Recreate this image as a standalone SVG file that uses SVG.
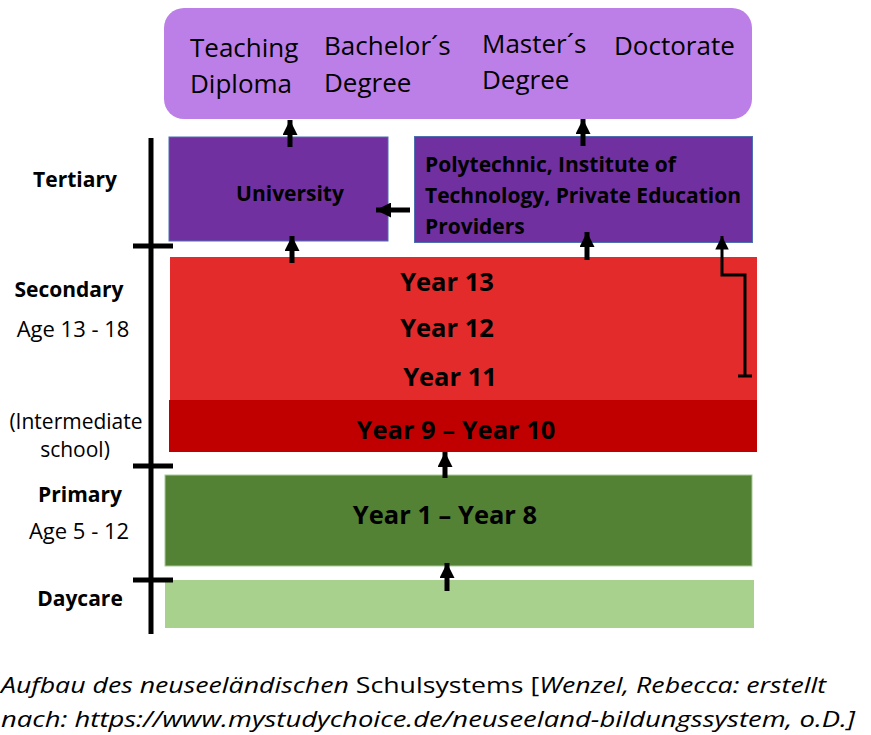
<svg xmlns="http://www.w3.org/2000/svg" width="871" height="735" viewBox="0 0 871 735">
<style>
text{font-family:"Open Sans","Noto Sans","Liberation Sans",sans-serif;fill:#000}
.deg{font-size:26px}
.b{font-weight:bold}
.lbl{font-size:21px;text-anchor:middle}
.lr{font-size:22px;text-anchor:middle}
.yr{font-size:25.5px;font-weight:bold;text-anchor:middle}
.cap{font-size:21px;font-style:italic}
.ax{stroke:#000;stroke-width:5;fill:none}
.con{stroke:#000;stroke-width:5;fill:none}
</style>
<defs>
<marker id="ah" viewBox="0 0 10 10" refX="10" refY="5" markerWidth="3" markerHeight="3" orient="auto" markerUnits="strokeWidth"><path d="M0,0L10,5L0,10z" fill="#000"/></marker>
<marker id="ah2" viewBox="0 0 10 10" refX="10" refY="5" markerWidth="4.5" markerHeight="4.5" orient="auto" markerUnits="strokeWidth"><path d="M0,0L10,5L0,10z" fill="#000"/></marker>
</defs>
<g id="degrees">
<rect x="164" y="8" width="588" height="111" rx="20" fill="#BC7FE8"/>
<text class="deg" x="190" y="57">Teaching</text>
<text class="deg" x="190" y="93">Diploma</text>
<text class="deg" x="324" y="55">Bachelor´s</text>
<text class="deg" x="324" y="92">Degree</text>
<text class="deg" x="482" y="53">Master´s</text>
<text class="deg" x="482" y="89">Degree</text>
<text class="deg" x="614" y="55">Doctorate</text>
</g>
<g id="university">
<rect x="169" y="137" width="219" height="104" fill="#7030A0" stroke="#4F6FB0" stroke-width="1"/>
<text class="b" x="290" y="201" font-size="21" text-anchor="middle">University</text>
</g>
<g id="polytechnic">
<rect x="414.5" y="136.5" width="338" height="106" fill="#7030A0" stroke="#4F6FB0" stroke-width="1"/>
<text class="b" x="425" y="172" font-size="21">Polytechnic, Institute of</text>
<text class="b" x="425" y="203" font-size="21">Technology, Private Education</text>
<text class="b" x="425" y="234" font-size="21">Providers</text>
</g>
<g id="secondary-upper">
<rect x="170" y="257" width="587" height="144" fill="#E32B2B"/>
<text class="yr" x="447" y="291">Year 13</text>
<text class="yr" x="447" y="337">Year 12</text>
<text class="yr" x="450" y="386">Year 11</text>
</g>
<g id="intermediate">
<rect x="169" y="400" width="588" height="52" fill="#C00000"/>
<text class="yr" x="456" y="439">Year 9 – Year 10</text>
</g>
<g id="primary">
<rect x="165" y="475" width="587" height="91" fill="#548235" stroke="#A9C79A" stroke-width="1"/>
<text class="yr" x="445" y="524">Year 1 – Year 8</text>
</g>
<g id="daycare">
<rect x="165" y="580" width="589" height="48" fill="#A9D18E"/>
</g>
<g id="axis">
<line class="ax" x1="151" y1="138" x2="151" y2="634"/>
<line class="ax" x1="133" y1="246" x2="173" y2="246"/>
<line class="ax" x1="133" y1="466" x2="173" y2="466"/>
<line class="ax" x1="133" y1="580" x2="173" y2="580"/>
<text class="lbl b" x="75" y="187">Tertiary</text>
<text class="lbl b" x="69" y="297">Secondary</text>
<text class="lr" x="73" y="337">Age 13 - 18</text>
<text class="lbl" x="76" y="429">(Intermediate</text>
<text class="lbl" x="75" y="457">school)</text>
<text class="lbl b" x="80" y="502">Primary</text>
<text class="lr" x="79" y="539">Age 5 - 12</text>
<text class="lbl b" x="80" y="606">Daycare</text>
</g>
<g id="connectors">
<line class="con" x1="290" y1="147" x2="290" y2="120" marker-end="url(#ah)"/>
<line class="con" x1="583" y1="146" x2="583" y2="119" marker-end="url(#ah)"/>
<line class="con" x1="292" y1="263" x2="292" y2="236" marker-end="url(#ah)"/>
<line class="con" x1="587" y1="260" x2="587" y2="232" marker-end="url(#ah)"/>
<line class="con" x1="410" y1="210" x2="376" y2="210" marker-end="url(#ah)"/>
<line class="con" x1="445" y1="478" x2="445" y2="452" marker-end="url(#ah)"/>
<line class="con" x1="447" y1="591" x2="447" y2="563" marker-end="url(#ah)"/>
<polyline points="745,376 745,275 722,275 722,236" fill="none" stroke="#000" stroke-width="3" marker-end="url(#ah2)"/>
<line x1="738" y1="376" x2="752" y2="376" stroke="#000" stroke-width="3"/>
</g>
<g id="caption">
<text class="cap" x="1" y="693" textLength="825" lengthAdjust="spacingAndGlyphs">Aufbau des neuseeländischen <tspan font-style="normal">Schulsystems [</tspan>Wenzel, Rebecca: erstellt</text>
<text class="cap" x="1" y="727" textLength="854" lengthAdjust="spacingAndGlyphs">nach: https://www.mystudychoice.de/neuseeland-bildungssystem, o.D.]</text>
</g>
</svg>
